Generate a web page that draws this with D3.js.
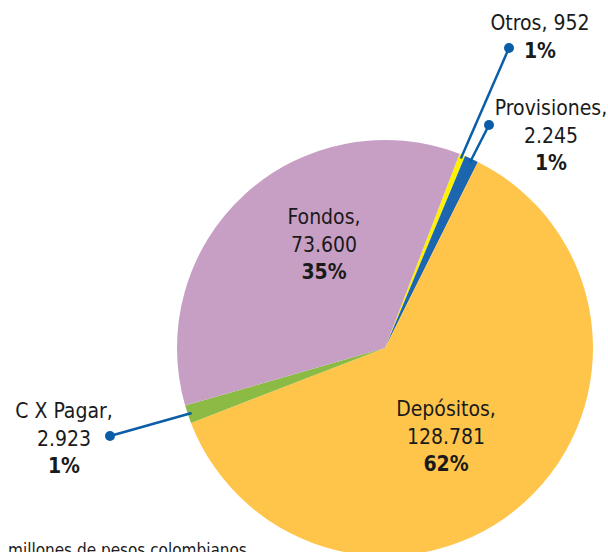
<!DOCTYPE html>
<html>
<head>
<meta charset="utf-8">
<script src="https://cdn.jsdelivr.net/npm/d3@7"></script>
<style>
  body { margin: 0; background: #fff; }
  text { font-family: "Liberation Sans Narrow", "DejaVu Sans Condensed", "Roboto", sans-serif; fill: #1a1a1a; }
</style>
</head>
<body>
<svg id="pie-svg"></svg>
<script>
// data, in millones de pesos
var categories = ["Otros", "Provisiones", "Depósitos", "C X Pagar", "Fondos"];
var values = [952, 2245, 128781, 2923, 73600];
var valueLabels = ["952", "2.245", "128.781", "2.923", "73.600"];
var pctLabels = ["1%", "1%", "62%", "1%", "35%"];
var colors = ["#FFF200", "#1B66AE", "#FFC54A", "#8BBB45", "#C79FC5"];

var width = 608, height = 552;
var cx = 385, cy = 348, radius = 208;

var svg = d3.select("#pie-svg")
  .attr("width", width)
  .attr("height", height);

var pie = d3.pie()
  .sort(null)
  .value(function (d) { return d; })
  .startAngle(21 * Math.PI / 180)
  .endAngle(21 * Math.PI / 180 + 2 * Math.PI);

var arc = d3.arc().innerRadius(0).outerRadius(radius);
var arcs = pie(values);

var g = svg.append("g").attr("transform", "translate(" + cx + "," + cy + ")");

g.selectAll("path")
  .data(arcs)
  .enter()
  .append("path")
  .attr("d", arc)
  .attr("fill", function (d, i) { return colors[i]; });

// label placement (relative to the pie centre); outside ones get a leader line
var labelPos = {
  "Otros":       { x: 155, y: -318, inside: false, dot: [124, -300], lines: 1 },
  "Provisiones": { x: 166, y: -233, inside: false, dot: [104, -223], lines: 2 },
  "Depósitos":   { x: 61,  y: 68,   inside: true,  lines: 2 },
  "C X Pagar":   { x: -321, y: 70,  inside: false, dot: [-275, 88], lines: 2 },
  "Fondos":      { x: -61, y: -124, inside: true,  lines: 2 }
};

var lineH = 27.5;
var edge = d3.arc().innerRadius(radius - 4).outerRadius(radius - 4);

arcs.forEach(function (d, i) {
  var p = labelPos[categories[i]];
  if (!p.inside) {
    var start = edge.centroid(d);
    g.append("line")
      .attr("x1", start[0]).attr("y1", start[1])
      .attr("x2", p.dot[0]).attr("y2", p.dot[1])
      .attr("stroke", "#0A5EA8")
      .attr("stroke-width", 2.5);
    g.append("circle")
      .attr("cx", p.dot[0]).attr("cy", p.dot[1])
      .attr("r", 5)
      .attr("fill", "#0A5EA8");
  }
  var t = g.append("text")
    .attr("text-anchor", "middle")
    .attr("font-size", 21);
  var rows = p.lines === 1
    ? [categories[i] + ", " + valueLabels[i]]
    : [categories[i] + ",", valueLabels[i]];
  rows.forEach(function (r, k) {
    t.append("tspan").attr("x", p.x).attr("y", p.y + k * lineH).text(r);
  });
  t.append("tspan")
    .attr("x", p.x)
    .attr("y", p.y + rows.length * lineH)
    .attr("font-weight", "bold")
    .text(pctLabels[i]);
});

svg.append("text")
  .attr("x", 8)
  .attr("y", 556)
  .attr("font-size", 17)
  .text("millones de pesos colombianos");
</script>
</body>
</html>
